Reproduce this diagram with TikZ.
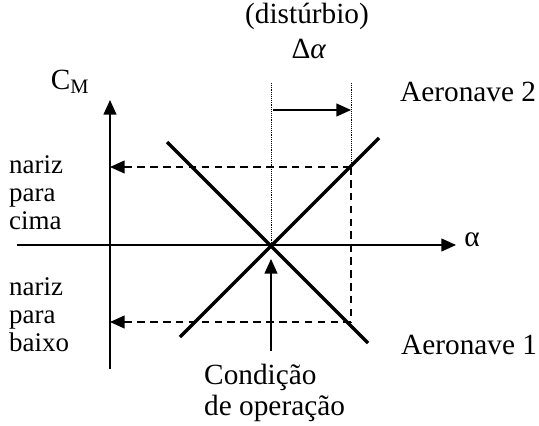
\documentclass[tikz,border=0pt]{standalone}
\usepackage{fontspec}
\setmainfont{Liberation Serif}
\usetikzlibrary{arrows.meta}
\tikzset{
  ponta/.style={-{Triangle[length=12.5pt,width=11pt]}},
  eixo/.style={line width=1.3pt},
  reta/.style={line width=3pt},
  tracado/.style={line width=1.2pt,dash pattern=on 6.5pt off 4.5pt},
  pontilhado/.style={line width=0.8pt,dash pattern=on 0.8pt off 0.8pt},
  texto/.style={font=\fontsize{25}{29}\selectfont,inner sep=0pt},
  rotulo/.style={font=\fontsize{23}{23.8}\selectfont,align=left,inner sep=0pt},
}

\begin{document}
\begin{tikzpicture}[x=0.03cm,y=-0.03cm]

  \useasboundingbox (0,0) rectangle (539,425);

  % ---------- PONTOS ----------
  \coordinate (ybaixo) at (110,369);
  \coordinate (ytopo)  at (110,100);
  \coordinate (xesq)   at (17,245);
  \coordinate (xdir)   at (456,245);
  \coordinate (op)     at (271,245);
  \coordinate (a1ini)  at (167,142);
  \coordinate (a1fim)  at (368,343);
  \coordinate (a2ini)  at (180,337);
  \coordinate (a2fim)  at (379,138);
  \coordinate (topoE)  at (271,83);
  \coordinate (topoD)  at (351,83);
  \coordinate (pcima)  at (351,167);
  \coordinate (pbaixo) at (351,322);
  \coordinate (ycima)  at (110,167);
  \coordinate (ybx)    at (110,322);
  \coordinate (dini)   at (273,110);
  \coordinate (dfim)   at (351,110);
  \coordinate (cini)   at (271,351);
  \coordinate (cfim)   at (271,259);

  % ---------- EIXOS ----------
  \draw[eixo,ponta] (ybaixo) -- (ytopo);
  \draw[eixo,ponta] (xesq) -- (xdir);

  % ---------- RETAS ----------
  \draw[reta] (a1ini) -- (a1fim);
  \draw[reta] (a2ini) -- (a2fim);

  % ---------- GUIAS ----------
  \draw[pontilhado] (topoE) -- (op);
  \draw[pontilhado] (topoD) -- (pcima);
  \draw[tracado] (pcima) -- (pbaixo);
  \draw[tracado,ponta] (pcima) -- (ycima);
  \draw[tracado,ponta] (pbaixo) -- (ybx);

  % ---------- SETAS ----------
  \draw[eixo,ponta] (dini) -- (dfim);
  \draw[eixo,ponta] (cini) -- (cfim);

  % ---------- TEXTOS ----------
  \node[texto] (cm) at (70,82) {C\textsubscript{M}};
  \node[texto] (alfa) at (472,240) {α};
  \node[texto] (dist) at (307,16) {(distúrbio)};
  \node[texto] (delta) at (309,49) {Δ\textit{α}};
  \node[texto,anchor=west] (av2) at (400,92) {Aeronave 2};
  \node[texto,anchor=west] (av1) at (401,345) {Aeronave 1};
  \node[texto,anchor=west] (cond1) at (204,377) {Condição};
  \node[texto,anchor=west] (cond2) at (204,408) {de operação};
  \node[rotulo,anchor=west] (cima) at (9,193) {nariz\\para\\cima};
  \node[rotulo,anchor=west] (baixo) at (9,315) {nariz\\para\\baixo};

\end{tikzpicture}
\end{document}
